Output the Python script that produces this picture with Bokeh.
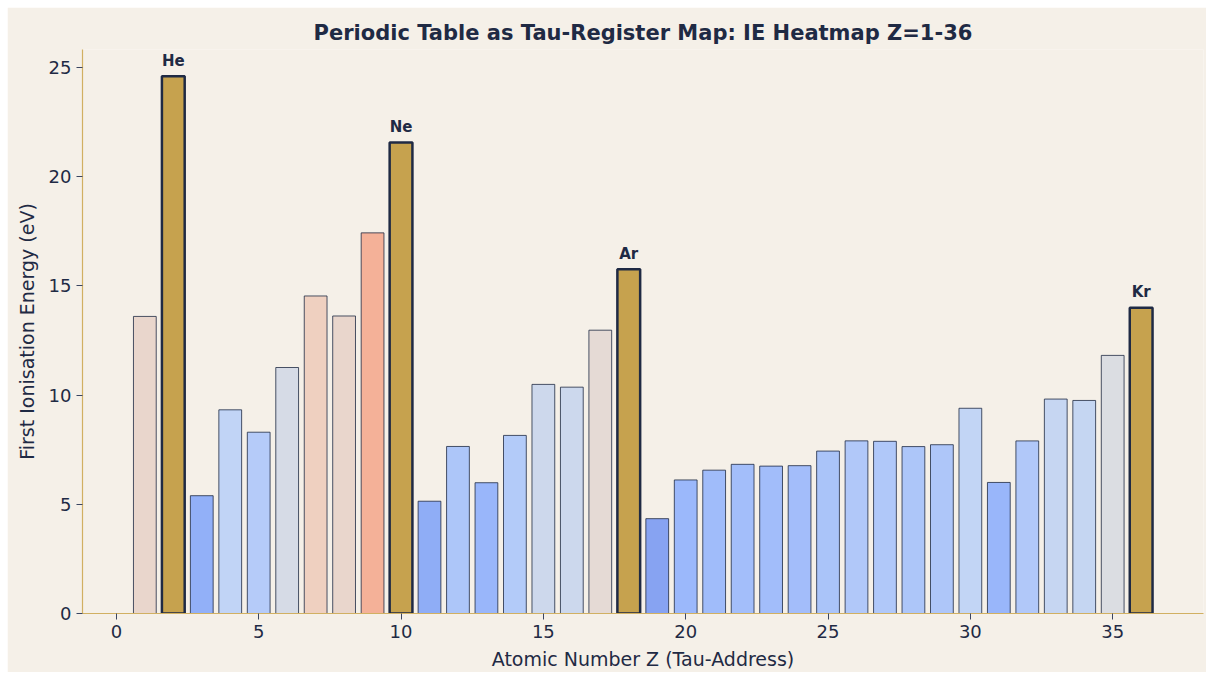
import numpy as np
from bokeh.plotting import figure
from bokeh.layouts import column, row
from bokeh.models import ColumnDataSource, FixedTicker, Spacer
from bokeh.core.properties import value
from bokeh.embed import file_html
from bokeh.resources import INLINE

# ---- data ----
atomic_numbers = list(range(1, 37))
symbols = ["H", "He", "Li", "Be", "B", "C", "N", "O", "F", "Ne",
           "Na", "Mg", "Al", "Si", "P", "S", "Cl", "Ar", "K", "Ca",
           "Sc", "Ti", "V", "Cr", "Mn", "Fe", "Co", "Ni", "Cu", "Zn",
           "Ga", "Ge", "As", "Se", "Br", "Kr"]
ionisation_ev = [13.598, 24.587, 5.392, 9.323, 8.298, 11.260, 14.534, 13.618, 17.423, 21.565,
                 5.139, 7.646, 5.986, 8.152, 10.487, 10.360, 12.968, 15.760, 4.341, 6.113,
                 6.561, 6.828, 6.746, 6.767, 7.434, 7.902, 7.881, 7.640, 7.726, 9.394,
                 5.999, 7.900, 9.815, 9.752, 11.814, 14.000]
noble_gases = ["He", "Ne", "Ar", "Kr"]
x_ticks = [0, 5, 10, 15, 20, 25, 30, 35]
y_ticks = [0, 5, 10, 15, 20, 25]

# ---- styles ----
BG = "#f5f0e8"
NAVY = "#1f2a44"
GOLD_SPINE = "#d1b062"
NOBLE_FILL = "#c6a24e"
CW_POS = [0.0, 0.125, 0.25, 0.375, 0.5, 0.625, 0.75, 0.875, 1.0]
CW_HEX = ["#3b4cc0", "#6687ed", "#8db0fe", "#b8d0f9", "#dddcdc",
          "#f4c5ad", "#f49a7b", "#dd604d", "#b40426"]


def coolwarm(t):
    rgb = np.array([[int(h[i:i + 2], 16) for i in (1, 3, 5)] for h in CW_HEX], float)
    r = np.interp(t, CW_POS, rgb[:, 0])
    g = np.interp(t, CW_POS, rgb[:, 1])
    b = np.interp(t, CW_POS, rgb[:, 2])
    return "#%02x%02x%02x" % (int(round(r)), int(round(g)), int(round(b)))


vmax = max(ionisation_ev)
is_noble = [s in noble_gases for s in symbols]
fills = [NOBLE_FILL if nb else coolwarm(v / vmax) for v, nb in zip(ionisation_ev, is_noble)]
fill_alpha = [1.0 if nb else 0.87 for nb in is_noble]
line_w = [2.5 if nb else 1.0 for nb in is_noble]
line_alpha = [1.0 if nb else 0.8 for nb in is_noble]

src = ColumnDataSource(dict(z=atomic_numbers, ie=ionisation_ev, fill=fills,
                            fa=fill_alpha, lw=line_w, la=line_alpha))

ymax = vmax * 1.05
p = figure(width=1199, height=665, x_range=(-1.19, 38.19), y_range=(0, ymax),
           output_backend="svg", toolbar_location=None,
           title="Periodic Table as Tau-Register Map: IE Heatmap Z=1-36",
           background_fill_color=BG, border_fill_color=BG,
           min_border_left=75, min_border_right=3, min_border_top=42, min_border_bottom=55)

p.vbar(x="z", top="ie", width=0.8, bottom=0, source=src,
       fill_color="fill", fill_alpha="fa", line_color=NAVY,
       line_width="lw", line_alpha="la")

nz = [z for z, nb in zip(atomic_numbers, is_noble) if nb]
nv = [v for v, nb in zip(ionisation_ev, is_noble) if nb]
ns = [s for s, nb in zip(symbols, is_noble) if nb]
lab = ColumnDataSource(dict(x=nz, y=[v + 0.7 for v in nv], t=ns))
p.text(x="x", y="y", text="t", source=lab, text_align="center",
       text_baseline="alphabetic", text_font=value("DejaVu Sans"),
       text_font_style="bold", text_font_size="15px", text_color=NAVY)

p.title.text_font = "DejaVu Sans"
p.title.text_font_size = "21px"
p.title.text_font_style = "bold"
p.title.text_color = NAVY
p.title.align = "center"

p.xgrid.visible = False
p.ygrid.visible = False
p.outline_line_color = None

p.xaxis.ticker = FixedTicker(ticks=x_ticks)
p.yaxis.ticker = FixedTicker(ticks=y_ticks)
p.xaxis.axis_label = "Atomic Number Z (Tau-Address)"
p.yaxis.axis_label = "First Ionisation Energy (eV)"
for ax in (p.xaxis, p.yaxis):
    ax.axis_line_color = GOLD_SPINE
    ax.axis_line_width = 1.2
    ax.major_tick_line_color = "#3a4560"
    ax.major_tick_out = 6
    ax.major_tick_in = 0
    ax.minor_tick_line_color = None
    ax.major_label_text_font = "DejaVu Sans"
    ax.major_label_text_font_size = "18px"
    ax.major_label_text_color = NAVY
    ax.axis_label_text_font = "DejaVu Sans"
    ax.axis_label_text_font_size = "19px"
    ax.axis_label_text_font_style = "normal"
    ax.axis_label_text_color = NAVY
p.xaxis.axis_label_standoff = 7
p.yaxis.axis_label_standoff = 8

layout = column(Spacer(height=7), row(Spacer(width=7), p, spacing=0), spacing=0)
open("out.html", "w").write(file_html(layout, INLINE))
